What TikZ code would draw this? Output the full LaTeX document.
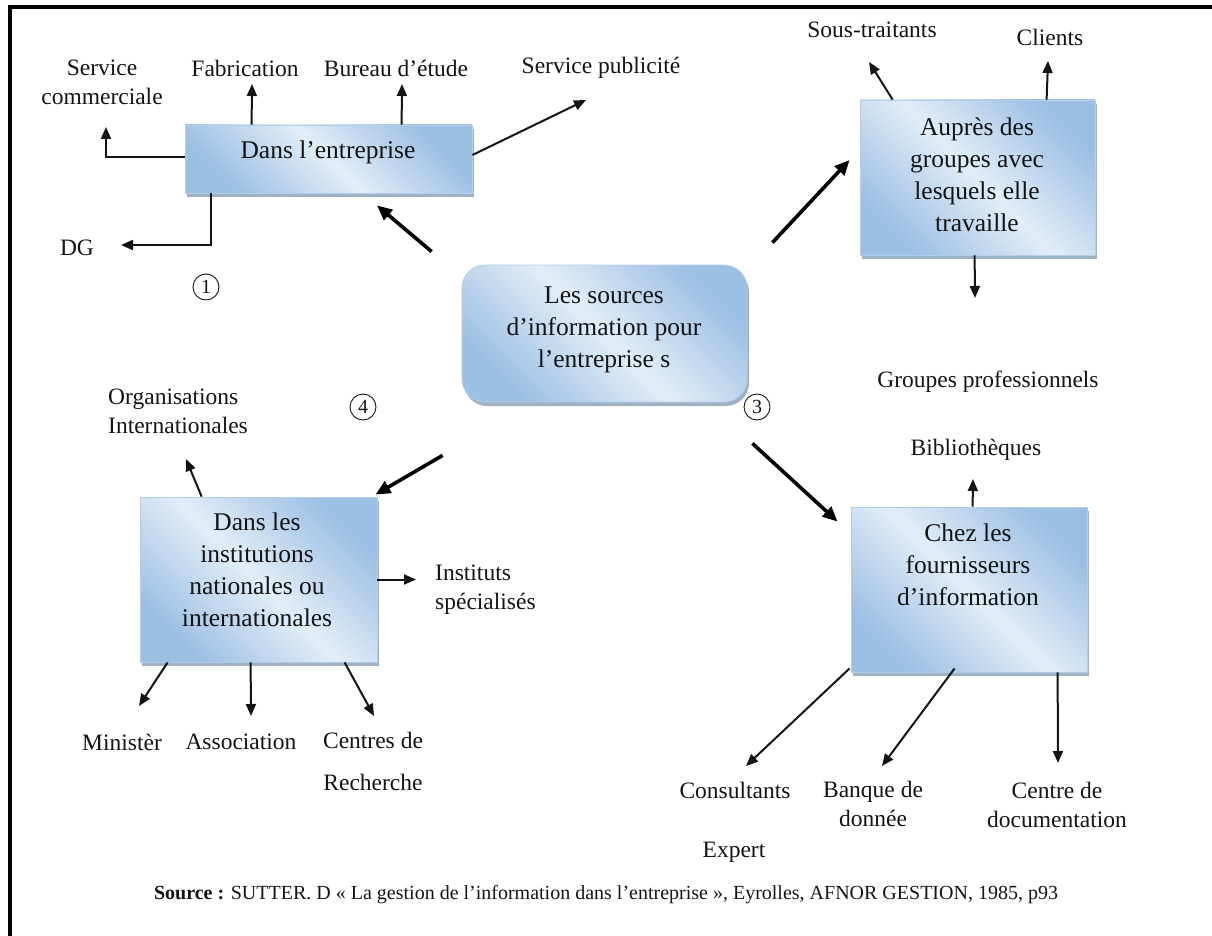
\documentclass[tikz,border=0pt]{standalone}
\usepackage{fontspec}
\setmainfont{Liberation Serif}
\usetikzlibrary{arrows.meta,shadows,calc}

\definecolor{boxlight}{HTML}{E2EDF8}
\definecolor{boxdark}{HTML}{9CBFE4}
\definecolor{boxshadow}{HTML}{7F97B0}
\definecolor{boxedge}{HTML}{B4CDE8}
\definecolor{ink}{HTML}{141414}

\tikzset{
  panel/.style={rectangle, draw=boxedge, line width=0.8pt,
    left color=boxdark, right color=boxdark, middle color=boxlight, shading angle=135,
    drop shadow={shadow xshift=2pt, shadow yshift=-4pt, fill=boxshadow, opacity=0.75},
    inner sep=0pt},
  paneltext/.style={font=\fontsize{25.5}{32}\selectfont, align=center, text=ink, inner sep=0pt},
  lbl/.style={font=\fontsize{23.5}{29}\selectfont, align=center, text=ink, inner sep=0pt},
  num/.style={circle, draw=ink, line width=0.9pt, minimum size=26pt, inner sep=0pt,
    font=\fontsize{20}{20}\selectfont, text=ink},
  link/.style={line width=2pt, draw=ink, -{Triangle[length=12pt,width=10pt]}},
  feed/.style={line width=3.6pt, draw=black, -{Triangle[length=15pt,width=13pt]}},
}

\begin{document}
\begin{tikzpicture}[x=1pt,y=-1pt]
\useasboundingbox (0,0) rectangle (1212,936);

% frame
\draw[line width=4pt, black] (9.5,936) -- (9.5,7.5) -- (1212,7.5);

% panels
\node[panel, minimum width=287pt, minimum height=68pt] (b1) at (328.5,159) {};
\node[panel, minimum width=235pt, minimum height=155pt] (b2) at (977.5,177.5) {};
\node[panel, rounded corners=23pt, minimum width=285pt, minimum height=137pt] (bc) at (604.5,333.5) {};
\node[panel, minimum width=237pt, minimum height=165pt] (b4) at (258.5,579.5) {};
\node[panel, minimum width=236pt, minimum height=165pt] (b3) at (969,589.5) {};

% panel texts
\node[paneltext] (t1) at (328,152) {Dans l’entreprise};
\node[paneltext] (t2) at (977,174.5) {Auprès des\\groupes avec\\lesquels elle\\travaille};
\node[paneltext] (tc) at (604,329.5) {Les sources\\d’information pour\\l’entreprise s};
\node[paneltext] (t4) at (257,569.5) {Dans les\\institutions\\nationales ou\\internationales};
\node[paneltext] (t3) at (968,564.5) {Chez les\\fournisseurs\\d’information};

% outer labels
\node[lbl] (lcom) at (102,82.5) {Service\\commerciale};
\node[lbl] (lfab) at (245,68) {Fabrication};
\node[lbl] (lbur) at (396,68) {Bureau d’étude};
\node[lbl] (lpub) at (601,68) {Service publicité};
\node[lbl] (ldg) at (77,248) {DG};
\node[lbl] (lsous) at (872,30) {Sous-traitants};
\node[lbl] (lcli) at (1050,37) {Clients};
\node[lbl] (lgrp) at (988,382) {Groupes professionnels};
\node[lbl, align=left, anchor=west] (lorg) at (108,411) {Organisations\\Internationales};
\node[lbl, align=left, anchor=west] (linst) at (435,590) {Instituts\\spécialisés};
\node[lbl] (lmin) at (122,742) {Ministèr};
\node[lbl] (lass) at (241,742) {Association};
\node[lbl] (lcen) at (373,761) {Centres de\\[13pt]Recherche};
\node[lbl] (lbib) at (976,450) {Bibliothèques};
\node[lbl] (lcons) at (735,790) {Consultants};
\node[lbl] (lexp) at (734,852) {Expert};
\node[lbl] (lban) at (873,804) {Banque de\\donnée};
\node[lbl] (ldoc) at (1057,804.5) {Centre de\\documentation};

% circled numbers
\node[num] (n1) at (206,287) {1};
\node[num] (n3) at (757,407) {3};
\node[num] (n4) at (363,407) {4};

% source line
\node[font=\fontsize{20}{24}\selectfont, text=ink, inner sep=0pt] (src) at (606,895)
  {\textbf{Source :} SUTTER. D « La gestion de l’information dans l’entreprise », Eyrolles, AFNOR GESTION, 1985, p93};

% arrow ends
\coordinate (ecom) at (106,127);
\coordinate (efab) at (252,84);
\coordinate (ebur) at (402,84);
\coordinate (epub) at (586,100);
\coordinate (edg) at (121,245);
\coordinate (esous) at (869,62);
\coordinate (ecli) at (1048,61);
\coordinate (egrp) at (975,298);
\coordinate (eorg) at (186,459);
\coordinate (einst) at (416,579.5);
\coordinate (emin) at (139,706);
\coordinate (eass) at (251,716);
\coordinate (ecen) at (374,716);
\coordinate (ebib) at (973,479);
\coordinate (econs) at (746,766);
\coordinate (eban) at (882,766);
\coordinate (edoc) at (1058,763);

% central arrows to the four sources
\draw[feed] ($(bc.north west)+(-30,-13)$) -- ($(b1.south)+(48.5,12)$);
\draw[feed] ($(bc.north east)+(25,-22)$) -- ($(b2.west)+(-10,-17.5)$);
\draw[feed] ($(bc.south west)+(-19,53)$) -- ($(b4.north east)+(-2,-2)$);
\draw[feed] ($(bc.south east)+(5,41)$) -- ($(b3.north west)+(-13,15)$);

% inside the company
\draw[link] ($(b1.west)+(0,-2)$) -| (ecom);
\draw[link] ($(b1.north west)+(67,0)$) -- (efab);
\draw[link] ($(b1.north west)+(217,0)$) -- (ebur);
\draw[link] ($(b1.east)+(0,-4)$) -- (epub);
\draw[link] ($(b1.south west)+(26,0)$) |- (edg);

% working groups
\draw[link] ($(b2.north west)+(33,0)$) -- (esous);
\draw[link] ($(b2.north west)+(187,0)$) -- (ecli);
\draw[link] ($(b2.south west)+(115,0)$) -- (egrp);

% institutions
\draw[link] ($(b4.north west)+(62,0)$) -- (eorg);
\draw[link] (b4.east) -- (einst);
\draw[link] ($(b4.south west)+(28,0)$) -- (emin);
\draw[link] ($(b4.south west)+(111,0)$) -- (eass);
\draw[link] ($(b4.south west)+(205,0)$) -- (ecen);

% information suppliers
\draw[link] ($(b3.north west)+(122,0)$) -- (ebib);
\draw[link] ($(b3.south west)+(-1,-4)$) -- (econs);
\draw[link] ($(b3.south west)+(104,-4)$) -- (eban);
\draw[link] ($(b3.south west)+(207,0)$) -- (edoc);
\end{tikzpicture}
\end{document}
